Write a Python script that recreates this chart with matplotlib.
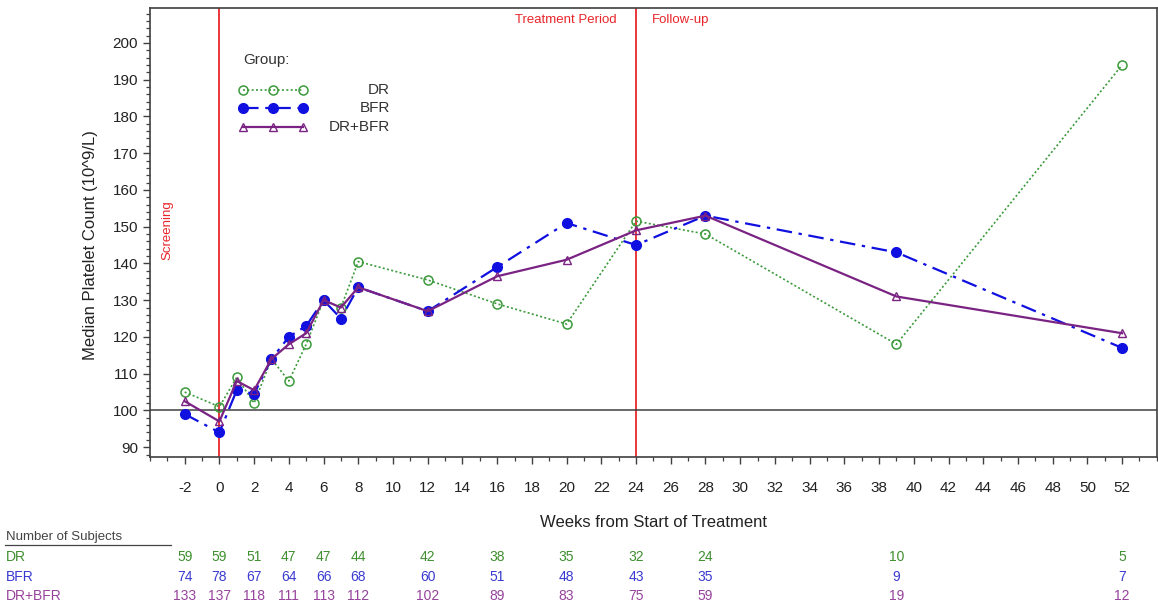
"""
Median platelet count by study week for the DR, BFR and DR+BFR groups,
with the number of subjects per visit listed under the x axis.
"""

import matplotlib
matplotlib.use("Agg")
import matplotlib.pyplot as plt
from matplotlib.ticker import MultipleLocator
from matplotlib.transforms import blended_transform_factory

plt.rcParams["font.family"] = ["Liberation Sans", "DejaVu Sans"]
plt.rcParams["axes.unicode_minus"] = False

OUT_PATH = "out.png"

# visit weeks and median platelet counts (10^9/L)
WEEKS = [-2, 0, 1, 2, 3, 4, 5, 6, 7, 8, 12, 16, 20, 24, 28, 39, 52]
MEDIAN_DR = [105, 101, 109, 102, 114, 108, 118, 130, 128, 140.5, 135.5, 129, 123.5, 151.5, 148, 118, 194]
MEDIAN_BFR = [99, 94, 105.5, 104.5, 114, 120, 123, 130, 125, 133.5, 127, 139, 151, 145, 153, 143, 117]
MEDIAN_BOTH = [102.5, 97, 108, 105.5, 114, 118, 121, 130, 128, 133.5, 127, 136.5, 141, 149, 153, 131, 121]

# number of subjects at each count visit
COUNT_WEEKS = [-2, 0, 2, 4, 6, 8, 12, 16, 20, 24, 28, 39, 52]
N_DR = [59, 59, 51, 47, 47, 44, 42, 38, 35, 32, 24, 10, 5]
N_BFR = [74, 78, 67, 64, 66, 68, 60, 51, 48, 43, 35, 9, 7]
N_BOTH = [133, 137, 118, 111, 113, 112, 102, 89, 83, 75, 59, 19, 12]

GROUPS = ["DR", "BFR", "DR+BFR"]
X_TICKS = list(range(-2, 53, 2))
Y_TICKS = list(range(90, 201, 10))

GREEN = "#3c9a3c"
BLUE = "#1010e0"
PURPLE = "#7a2383"
RED = "#e8262a"
AXIS_GREY = "#404040"

STYLES = {
    "DR": dict(color=GREEN, linestyle=(0, (1.2, 1.4)), lw=1.2, marker="o",
               mfc="none", mec=GREEN, ms=6.5, mew=1.1),
    "BFR": dict(color=BLUE, linestyle=(0, (7, 3, 1.5, 3)), lw=1.6, marker="o",
                mfc=BLUE, mec=BLUE, ms=7),
    "DR+BFR": dict(color=PURPLE, linestyle="-", lw=1.6, marker="^",
                   mfc="none", mec=PURPLE, ms=6, mew=1.0),
}
COUNT_COLORS = {"DR": "#3f8f2f", "BFR": "#3a3ad0", "DR+BFR": "#96439b"}


def draw_legend(ax):
    ax.text(0.0924, 0.884, "Group:", transform=ax.transAxes, fontsize=11,
            color="#333333", va="center", ha="left")
    rows = [0.817, 0.777, 0.735]
    for name, y in zip(GROUPS, rows):
        ax.plot([0.0924, 0.1222, 0.152], [y, y, y], transform=ax.transAxes,
                clip_on=False, **STYLES[name])
        ax.text(0.2383, y, name, transform=ax.transAxes, fontsize=11,
                color="#333333", va="center", ha="right")


def draw_counts(fig, ax):
    trans = blended_transform_factory(ax.transData, fig.transFigure)
    rows = [("DR", N_DR, 0.0763), ("BFR", N_BFR, 0.0431), ("DR+BFR", N_BOTH, 0.0116)]
    fig.text(0.005, 0.109, "Number of Subjects", fontsize=9.5, color="#444444",
             ha="left", va="center")
    fig.add_artist(plt.Line2D([0.004, 0.148], [0.096, 0.096], color="#444444",
                              lw=0.9, transform=fig.transFigure))
    for name, counts, y in rows:
        color = COUNT_COLORS[name]
        fig.text(0.005, y, name, fontsize=10, color=color, ha="left", va="center")
        for wk, n in zip(COUNT_WEEKS, counts):
            ax.text(wk, y, str(n), transform=trans, fontsize=10, color=color,
                    ha="center", va="center")


def main():
    fig = plt.figure(figsize=(11.58, 6.03), dpi=100)
    ax = fig.add_axes([0.1295, 0.242, 0.8695, 0.7447])

    ax.axvline(0, color=RED, lw=1.3, zorder=1)
    ax.axvline(24, color=RED, lw=1.3, zorder=1)
    ax.axhline(100, color=AXIS_GREY, lw=1.1, zorder=1)

    ax.plot(WEEKS, MEDIAN_DR, zorder=3, **STYLES["DR"])
    ax.plot(WEEKS, MEDIAN_BFR, zorder=4, **STYLES["BFR"])
    ax.plot(WEEKS, MEDIAN_BOTH, zorder=5, **STYLES["DR+BFR"])

    ax.set_xlim(-4, 54)
    ax.set_ylim(87.3, 209.5)
    ax.set_xticks(X_TICKS)
    ax.set_yticks(Y_TICKS)
    ax.xaxis.set_minor_locator(MultipleLocator(1))
    ax.yaxis.set_minor_locator(MultipleLocator(2))
    ax.tick_params(axis="both", which="major", direction="out", length=5,
                   width=1.0, color=AXIS_GREY, labelsize=11, labelcolor="#222222")
    ax.tick_params(axis="both", which="minor", direction="out", length=3,
                   width=0.9, color=AXIS_GREY)
    ax.tick_params(axis="x", which="major", pad=12)
    for spine in ax.spines.values():
        spine.set_color(AXIS_GREY)
        spine.set_linewidth(1.2)

    ax.set_xlabel("Weeks from Start of Treatment", fontsize=12, color="#222222")
    ax.xaxis.set_label_coords(0.5, -0.128)
    ax.set_ylabel("Median Platelet Count (10^9/L)", fontsize=12, color="#222222")
    ax.yaxis.set_label_coords(-0.0517, 0.472)

    ax.text(-3.0, 149.0, "Screening", color=RED, fontsize=9.5, rotation=90,
            ha="center", va="center")
    ax.text(22.9, 206.3, "Treatment Period", color=RED, fontsize=9.5,
            ha="right", va="center")
    ax.text(24.9, 206.3, "Follow-up", color=RED, fontsize=9.5,
            ha="left", va="center")

    draw_legend(ax)
    draw_counts(fig, ax)

    fig.savefig(OUT_PATH, dpi=100)
    print(f"saved plot to {OUT_PATH}")


if __name__ == "__main__":
    main()
